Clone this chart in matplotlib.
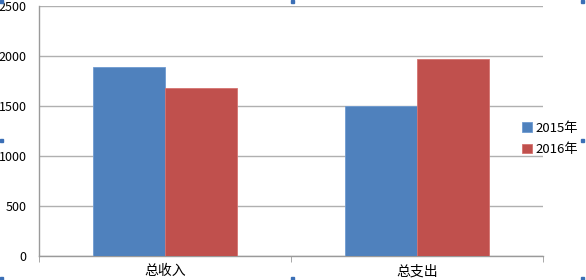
import matplotlib.pyplot as plt
import matplotlib.patches as mpatches
import numpy as np

plt.rcParams['font.family'] = ['Noto Sans CJK SC', 'DejaVu Sans']

categories = ["总收入", "总支出"]
series_names = ["2015年", "2016年"]
values_2015 = [1890, 1500]
values_2016 = [1680, 1975]
colors = ["#4F81BD", "#C0504D"]

W, H = 586, 280
fig = plt.figure(figsize=(W / 100, H / 100), dpi=100)
ax = fig.add_axes([39 / W, 24 / H, 504 / W, 250 / H])

x = np.arange(len(categories))
bw = 0.286
ax.bar(x - bw / 2, values_2015, bw, color=colors[0], edgecolor="#6f9bd1", linewidth=0.6,
       label=series_names[0], zorder=3)
ax.bar(x + bw / 2, values_2016, bw, color=colors[1], edgecolor="#d57370", linewidth=0.6,
       label=series_names[1], zorder=3)

ax.set_xlim(-0.5, 1.5)
ax.set_ylim(0, 2500)
ax.set_yticks(range(0, 2501, 500))
ax.grid(axis="y", color="#b0b0b0", linewidth=1, zorder=0)

for s in ["top", "right"]:
    ax.spines[s].set_visible(False)
for s in ["left", "bottom"]:
    ax.spines[s].set_color("#9a9a9a")
    ax.spines[s].set_linewidth(1)

ax.tick_params(axis="y", length=0, labelsize=9, pad=9, colors="#000000")
ax.tick_params(axis="x", length=0, labelsize=10, pad=6)
ax.set_xticks(x)
ax.set_xticklabels(categories)
# category separator ticks
ax.set_xticks([-0.5, 0.5, 1.5], minor=True)
ax.tick_params(axis="x", which="minor", length=4, color="#9a9a9a")

leg = ax.legend(loc="center left", bbox_to_anchor=(478 / 504, 0.468), frameon=False,
                fontsize=9.5, handlelength=0.7, handleheight=0.7, handletextpad=0.3,
                labelspacing=0.65, borderaxespad=0)

# selection handles around the chart frame
for hx, hy in [(0, 0), (291, 0), (581, 0), (0, 139), (581, 139), (0, 277), (291, 277), (581, 277)]:
    fig.patches.append(mpatches.Rectangle((hx / W, 1 - (hy + 3) / H), 3 / W, 3 / H,
                                          transform=fig.transFigure, color="#3b6fb6"))

fig.savefig("out.png", dpi=100)
